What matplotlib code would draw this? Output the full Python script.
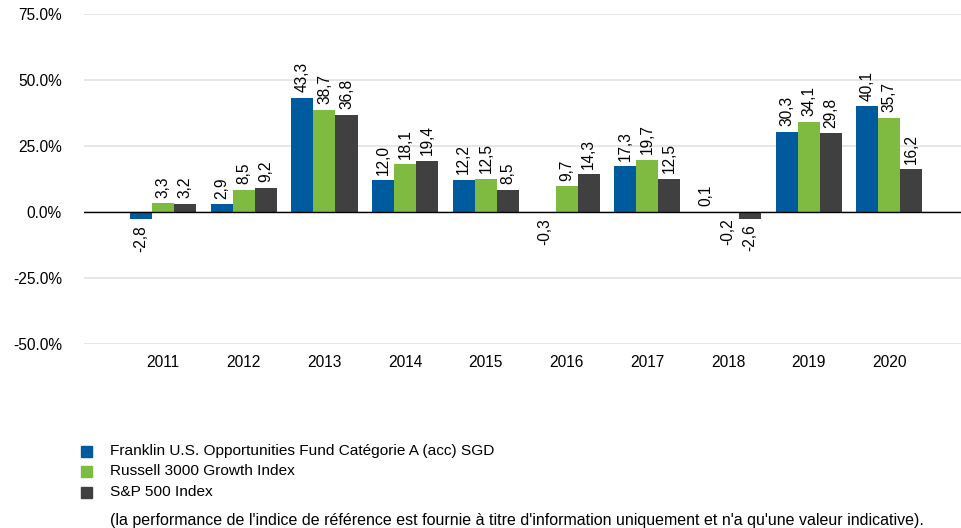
import matplotlib
matplotlib.use("Agg")
import matplotlib.pyplot as plt
import numpy as np
from matplotlib.patches import Rectangle

plt.rcParams['font.family'] = ['Liberation Sans', 'DejaVu Sans']

years = ["2011", "2012", "2013", "2014", "2015", "2016", "2017", "2018", "2019", "2020"]
fund = [-2.8, 2.9, 43.3, 12.0, 12.2, -0.3, 17.3, 0.1, 30.3, 40.1]
russell = [3.3, 8.5, 38.7, 18.1, 12.5, 9.7, 19.7, -0.2, 34.1, 35.7]
sp500 = [3.2, 9.2, 36.8, 19.4, 8.5, 14.3, 12.5, -2.6, 29.8, 16.2]
series_names = ["Franklin U.S. Opportunities Fund Catégorie A (acc) SGD",
                "Russell 3000 Growth Index", "S&P 500 Index"]
colors = ["#005a9e", "#7fbb41", "#404040"]
yticks = [-50, -25, 0, 25, 50, 75]
footnote = "(la performance de l'indice de référence est fournie à titre d'information uniquement et n'a qu'une valeur indicative)."

fig = plt.figure(figsize=(9.62, 5.28), dpi=100)
ax = fig.add_axes([84/962, (528-344)/528, (962-84)/962, (344-14)/528])

x = np.arange(len(years))
w = 0.273
for k, (vals, c) in enumerate(zip([fund, russell, sp500], colors)):
    pos = x + (k - 1) * w
    ax.bar(pos, vals, width=w, color=c, zorder=3)
    for px, v in zip(pos, vals):
        txt = f"{v:.1f}".replace(".", ",")
        if v >= 0:
            ax.annotate(txt, (px, v), xytext=(0, 4), textcoords="offset points",
                        rotation=90, ha="center", va="bottom", fontsize=11.2)
        else:
            ax.annotate(txt, (px, v), xytext=(0, -4), textcoords="offset points",
                        rotation=90, ha="center", va="top", fontsize=11.2)

ax.set_ylim(-50, 75)
ax.set_xlim(-0.98, 9.9)
ax.set_yticks(yticks)
ax.set_yticklabels([f"{t:.1f}%" for t in yticks], fontsize=11.2)
ax.set_xticks(x)
ax.set_xticklabels(years, fontsize=11.2)
ax.tick_params(length=0)
ax.tick_params(axis='y', pad=16)
ax.tick_params(axis='x', pad=8)
for s in ax.spines.values():
    s.set_visible(False)
ax.grid(axis='y', color='#e3e3e3', linewidth=1.2, zorder=0)
ax.axhline(0, color='black', linewidth=1, zorder=4)

# legend
ys = [451, 471, 492]
for name, c, yy in zip(series_names, colors, ys):
    fig.patches.append(Rectangle((81/962, 1 - (yy + 6)/528), 11/962, 11/528,
                                 transform=fig.transFigure, color=c, figure=fig))
    fig.text(110/962, 1 - yy/528, name, fontsize=11.1, va='center', ha='left')
fig.text(110/962, 1 - 520/528, footnote, fontsize=11.5, va='center', ha='left')

fig.savefig("out.png", dpi=100)
